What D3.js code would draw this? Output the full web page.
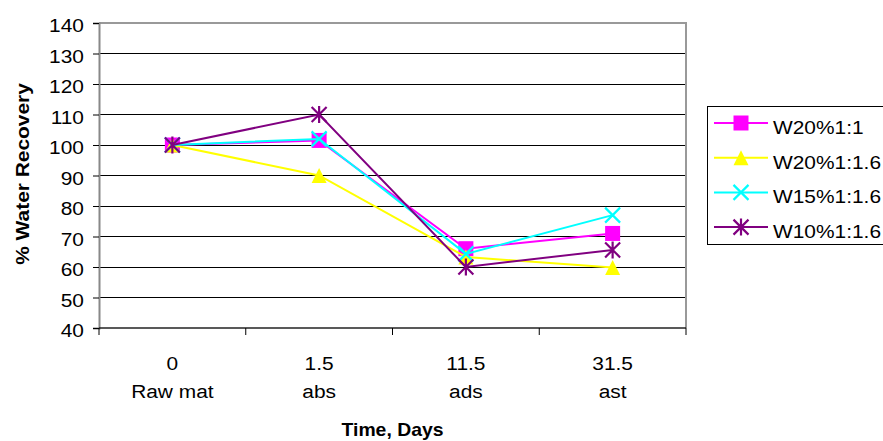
<!DOCTYPE html>
<html>
<head>
<meta charset="utf-8">
<script src="https://cdn.jsdelivr.net/npm/d3@7"></script>
<style>
  body { margin: 0; background: #fff; }
  svg { display: block; font-family: "Liberation Sans", Arial, sans-serif; }
</style>
</head>
<body>
<svg id="chart" width="883" height="441"></svg>
<script>
// Sampling times and stage names
const days = ["0", "1.5", "11.5", "31.5"];
const stages = ["Raw mat", "abs", "ads", "ast"];

// % water recovery per formulation
const w20_1_1   = [100, 101.5, 66, 71];
const w20_1_16  = [100, 90, 63.3, 59.8];
const w15_1_16  = [100, 102, 64.3, 77];
const w10_1_16  = [100, 110, 60, 65.6];

const yTicks = [40, 50, 60, 70, 80, 90, 100, 110, 120, 130, 140];

const series = [
  { name: "W20%1:1",   values: w20_1_1,  color: "#FF00FF", marker: "square" },
  { name: "W20%1:1.6", values: w20_1_16, color: "#FFFF00", marker: "triangle" },
  { name: "W15%1:1.6", values: w15_1_16, color: "#00FFFF", marker: "cross" },
  { name: "W10%1:1.6", values: w10_1_16, color: "#800080", marker: "asterisk" }
];

const FONT = 19;      // label font size
const WIDEN = 1.1;    // horizontal widening of glyphs

const svg = d3.select("#chart");
const plot = { left: 99, right: 686, top: 23, bottom: 328 };

const x = d3.scaleBand().domain(days).range([plot.left, plot.right]);
const y = d3.scaleLinear().domain([40, 140]).range([plot.bottom, plot.top]);
const cx = d => x(d) + x.bandwidth() / 2;

// text helper: places a label at (tx, ty), optionally rotated, slightly widened
function label(parent, str, tx, ty, opts = {}) {
  const rot = opts.rotate || 0;
  return parent.append("text")
    .attr("transform", `translate(${tx},${ty}) rotate(${rot}) scale(${opts.widen || WIDEN},1)`)
    .attr("text-anchor", opts.anchor || "start")
    .attr("font-size", opts.size || FONT)
    .attr("font-weight", opts.bold ? "bold" : "normal")
    .attr("fill", "#000")
    .text(str);
}

// horizontal gridlines
svg.append("g")
  .selectAll("line")
  .data(yTicks.filter(t => t > 40 && t < 140))
  .join("line")
  .attr("x1", plot.left).attr("x2", plot.right)
  .attr("y1", d => y(d)).attr("y2", d => y(d))
  .attr("stroke", "#000").attr("stroke-width", 1)
  .attr("shape-rendering", "crispEdges");

// plot frame: top and right edges in grey
svg.append("line")
  .attr("x1", plot.left).attr("x2", plot.right + 1)
  .attr("y1", plot.top).attr("y2", plot.top)
  .attr("stroke", "#999").attr("stroke-width", 2);
svg.append("line")
  .attr("x1", plot.right).attr("x2", plot.right)
  .attr("y1", plot.top).attr("y2", plot.bottom)
  .attr("stroke", "#999").attr("stroke-width", 2);

// y axis
const yAxis = svg.append("g")
  .attr("transform", `translate(${plot.left},0)`)
  .call(d3.axisLeft(y).tickValues(yTicks).tickSize(6).tickFormat(""));
yAxis.select(".domain").attr("stroke", "#888").attr("stroke-width", 2);
yAxis.selectAll(".tick line").attr("stroke", "#000");
const yLab = svg.append("g");
yTicks.forEach(t => label(yLab, String(t), 84, y(t) + 9, { anchor: "end" }));

// x axis: ticks at category boundaries
const bounds = days.map(d => x(d)).concat([plot.right]);
svg.append("line")
  .attr("x1", plot.left).attr("x2", plot.right)
  .attr("y1", plot.bottom).attr("y2", plot.bottom)
  .attr("stroke", "#222").attr("stroke-width", 1.5);
svg.append("g")
  .selectAll("line")
  .data(bounds)
  .join("line")
  .attr("x1", d => d).attr("x2", d => d)
  .attr("y1", plot.bottom).attr("y2", plot.bottom + 7)
  .attr("stroke", "#000").attr("stroke-width", 1);

const xLab = svg.append("g");
days.forEach((d, i) => {
  label(xLab, d, cx(d), 370, { anchor: "middle" });
  label(xLab, stages[i], cx(d), 398, { anchor: "middle" });
});

// axis titles
label(svg, "Time, Days", (plot.left + plot.right) / 2, 436, { anchor: "middle", bold: true, widen: 1.02 });
label(svg, "% Water Recovery", 29, 174, { anchor: "middle", bold: true, rotate: -90 });

// marker drawing
function drawMarker(g, type, color, mx, my) {
  const s = 7.5;
  if (type === "square") {
    g.append("rect").attr("x", mx - s).attr("y", my - s)
      .attr("width", 2 * s).attr("height", 2 * s).attr("fill", color);
  } else if (type === "triangle") {
    g.append("path")
      .attr("d", `M${mx},${my - s} L${mx + s},${my + s} L${mx - s},${my + s} Z`)
      .attr("fill", color);
  } else if (type === "cross") {
    g.append("path")
      .attr("d", `M${mx - s},${my - s} L${mx + s},${my + s} M${mx - s},${my + s} L${mx + s},${my - s}`)
      .attr("stroke", color).attr("stroke-width", 2.2).attr("fill", "none");
  } else if (type === "asterisk") {
    g.append("path")
      .attr("d", `M${mx - s},${my - s} L${mx + s},${my + s} M${mx - s},${my + s} L${mx + s},${my - s} M${mx},${my - s - 1} L${mx},${my + s + 1}`)
      .attr("stroke", color).attr("stroke-width", 2.2).attr("fill", "none");
  }
}

const line = d3.line()
  .x((d, i) => cx(days[i]))
  .y(d => y(d));

series.forEach(s => {
  const g = svg.append("g");
  g.append("path")
    .datum(s.values)
    .attr("d", line)
    .attr("fill", "none")
    .attr("stroke", s.color)
    .attr("stroke-width", 2);
  s.values.forEach((v, i) => drawMarker(g, s.marker, s.color, cx(days[i]), y(v)));
});

// legend
const legend = svg.append("g");
legend.append("rect")
  .attr("x", 707.5).attr("y", 106.5).attr("width", 190).attr("height", 138)
  .attr("fill", "#fff").attr("stroke", "#000").attr("stroke-width", 1);
series.forEach((s, i) => {
  const ly = 123 + i * 34.7;
  legend.append("line")
    .attr("x1", 714).attr("x2", 768).attr("y1", ly).attr("y2", ly)
    .attr("stroke", s.color).attr("stroke-width", 2);
  drawMarker(legend, s.marker, s.color, 741, ly);
  label(legend, s.name, 773, ly + 11);
});
</script>
</body>
</html>
